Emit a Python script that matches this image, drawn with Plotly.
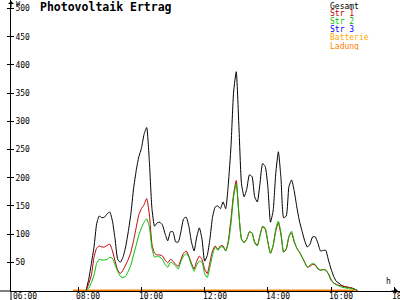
import plotly.graph_objects as go
from datetime import datetime, timedelta

# ---- data ----
start = datetime(2024, 1, 1, 7, 50)
times = [(start + timedelta(minutes=5 * i)).strftime("2024-01-01 %H:%M") for i in range(109)]

gesamt = [None, None, None, None, None,
          0, 20, 48, 77, 118, 132, 129, 130, 136, 139, 123, 91,
          55, 50, 59, 77, 104, 136, 180, 212, 237, 252, 277, 289,
          230, 145, 114, 120, 121, 116, 100, 88, 104, 104, 86, 86,
          104, 127, 130, 114, 86, 70, 95, 111, 91, 52, 62, 91,
          130, 148, 150, 145, 157, 145, 189, 255, 352, 388, 293, 189,
          166, 180, 205, 202, 166, 157, 189, 225, 220, 184, 121, 141,
          207, 246, 198, 129, 132, 184, 196, 177, 148, 123, 105, 88,
          77, 82, 95, 95, 84, 70, 71, 71, 54, 38, 25, 16,
          13, 9, 7, 6, 5, 4, 2, 0]

str1 = [None, None, None, None, None,
        0, 12, 27, 59, 75, 79, 77, 77, 80, 82, 70, 52,
        36, 30, 36, 45, 55, 68, 88, 111, 134, 145, 152, 163,
        136, 82, 66, 63, 63, 61, 54, 49, 55, 52, 46, 43,
        55, 66, 70, 61, 48, 38, 52, 61, 55, 38, 30, 50,
        70, 79, 73, 79, 79, 70, 88, 127, 171, 195, 136, 91,
        86, 91, 104, 102, 86, 80, 98, 113, 109, 86, 66, 79,
        105, 120, 98, 68, 73, 95, 102, 86, 75, 68, 59, 50,
        41, 43, 46, 45, 38, 36, 37, 36, 29, 18, 13, 11,
        9, 8, 7, 6, 5, 4, 2, 0]

str2 = [None, None, None, None, None,
        0, 4, 14, 27, 48, 55, 54, 54, 55, 59, 57, 45,
        34, 25, 23, 25, 34, 45, 63, 80, 98, 111, 121, 127,
        113, 75, 59, 61, 59, 55, 46, 41, 50, 48, 43, 38,
        52, 61, 66, 59, 45, 34, 45, 52, 50, 30, 23, 41,
        63, 77, 71, 77, 77, 70, 84, 118, 166, 189, 136, 91,
        84, 91, 104, 102, 84, 79, 96, 114, 111, 86, 66, 80,
        109, 123, 102, 68, 75, 96, 105, 88, 75, 68, 59, 50,
        41, 45, 48, 46, 39, 36, 37, 36, 30, 20, 13, 10,
        8, 6, 5, 4, 4, 3, 2, 0]

ladung = [0] * 108 + [None]

legend_names = ["Gesamt", "Str 1", "Str 2", "Str 3", "Batterie", "Ladung"]
legend_colors = ["#000000", "#c00000", "#00c000", "#0000ff", "#ffa800", "#ff8000"]

y_ticks = [50, 100, 150, 200, 250, 300, 350, 400, 450, 500]
x_tick_labels = ["06:00", "08:00", "10:00", "12:00", "14:00", "16:00", "18:00"]
x_ticks = ["2024-01-01 " + t for t in x_tick_labels]

assert len(gesamt) == len(str1) == len(str2) == len(times)

FONT = "DejaVu Sans Mono"

fig = go.Figure()
fig.add_trace(go.Scatter(x=times, y=ladung, mode="lines",
                         line=dict(color="#ff8000", width=2), hoverinfo="skip"))
fig.add_trace(go.Scatter(x=times, y=gesamt, mode="lines",
                         line=dict(color="#000000", width=1, shape="spline", smoothing=0.5)))
fig.add_trace(go.Scatter(x=times, y=str1, mode="lines",
                         line=dict(color="#c00000", width=1, shape="spline", smoothing=0.5)))
fig.add_trace(go.Scatter(x=times, y=str2, mode="lines",
                         line=dict(color="#00c000", width=1, shape="spline", smoothing=0.5)))
# invisible trace for the second (tick-only) y axis
fig.add_trace(go.Scatter(x=[times[0]], y=[None], yaxis="y2", showlegend=False))

fig.update_layout(
    width=400, height=300,
    margin=dict(l=11, r=0, t=0, b=9),
    paper_bgcolor="white", plot_bgcolor="white",
    showlegend=False,
    font=dict(family=FONT, size=8, color="black"),
    xaxis=dict(type="date",
               range=["2024-01-01 05:52:24", "2024-01-01 18:10:54"],
               tickvals=x_ticks, showticklabels=False,
               ticks="inside", ticklen=4, tickcolor="black", tickwidth=1,
               showline=True, linecolor="black", linewidth=1,
               showgrid=False, zeroline=False,
               automargin=False, fixedrange=True),
    yaxis=dict(range=[-1, 515.2], tickvals=y_ticks,
               ticks="inside", ticklen=3, tickcolor="black", tickwidth=1,
               ticklabelposition="inside",
               showline=True, linecolor="black", linewidth=1,
               showgrid=False, zeroline=False,
               tickfont=dict(family=FONT, size=8, color="black"),
               automargin=False, fixedrange=True),
    yaxis2=dict(range=[-1, 515.2], tickvals=y_ticks, overlaying="y", side="left",
                ticks="outside", ticklen=3, tickcolor="black", tickwidth=1,
                showticklabels=False, showline=False, showgrid=False, zeroline=False,
                automargin=False, fixedrange=True),
)

def px_x(px):
    return (px - 11) / 389.0

def px_y(py):
    return (291 - py) / 291.0

ann = []
# x tick labels, left-aligned just before each tick (as in the reference)
for tv, tl in zip(x_ticks, x_tick_labels):
    ann.append(dict(text=tl, xref="x", yref="paper", x=tv, y=0, xanchor="left",
                    yanchor="top", xshift=-4, yshift=1, showarrow=False,
                    font=dict(family=FONT, size=8, color="black")))
ann.append(dict(text="<b>Photovoltaik Ertrag</b>", xref="paper", yref="paper",
                x=px_x(38), y=px_y(-2), xanchor="left", yanchor="top", showarrow=False,
                font=dict(family=FONT, size=11.5, color="black")))
for i, (n, c) in enumerate(zip(legend_names, legend_colors)):
    ann.append(dict(text=n, xref="paper", yref="paper", x=px_x(328), y=px_y(5.5 + 8 * i),
                    xanchor="left", yanchor="middle", showarrow=False, height=8,
                    font=dict(family=FONT, size=8, color=c)))
ann.append(dict(text="W", xref="paper", yref="paper", x=px_x(14), y=px_y(-2),
                xanchor="left", yanchor="top", showarrow=False,
                font=dict(family=FONT, size=7, color="black")))
ann.append(dict(text="h", xref="paper", yref="paper", x=px_x(384), y=px_y(281),
                xanchor="left", yanchor="middle", showarrow=False,
                font=dict(family=FONT, size=8, color="black")))
# axis arrows
ann.append(dict(text="", xref="paper", yref="paper", x=0, y=px_y(1), ax=0, ay=8,
                showarrow=True, arrowhead=1, arrowwidth=1, arrowsize=1, arrowcolor="black"))
ann.append(dict(text="", xref="paper", yref="paper", x=px_x(398), y=0, ax=-8, ay=0,
                showarrow=True, arrowhead=1, arrowwidth=1, arrowsize=1, arrowcolor="black"))
fig.update_layout(annotations=ann)

# axis-line extensions beyond the plot area (as in the reference)
fig.add_shape(type="line", xref="paper", yref="paper", x0=-11 / 389.0, x1=0, y0=0, y1=0,
              line=dict(color="black", width=1))
fig.add_shape(type="line", xref="paper", yref="paper", x0=0, x1=0, y0=-9 / 291.0, y1=0,
              line=dict(color="black", width=1))

fig.write_html("out.html")
